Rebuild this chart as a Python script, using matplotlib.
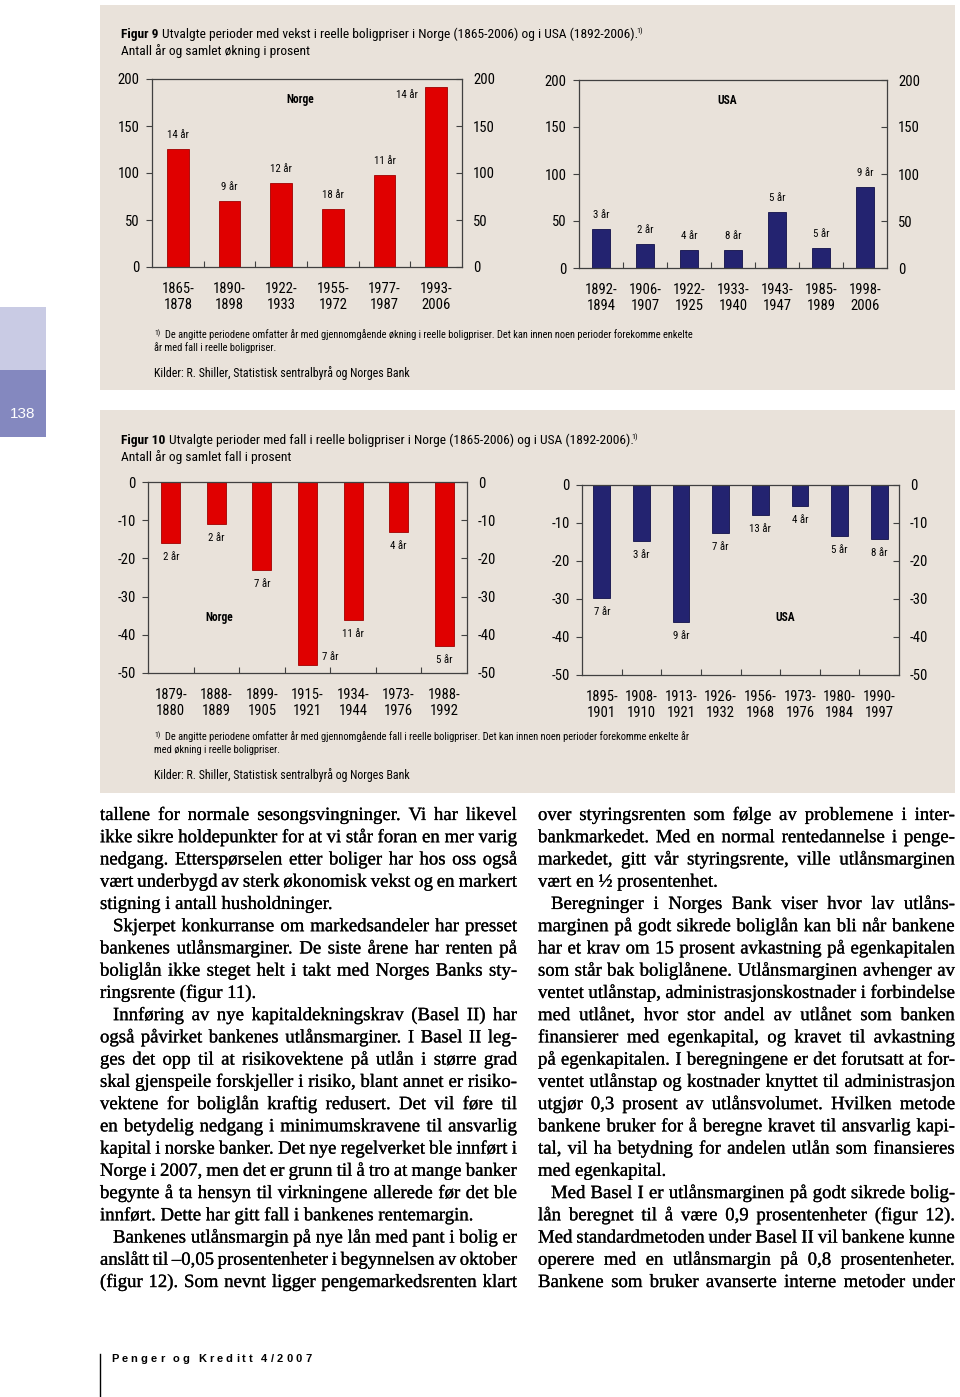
import matplotlib
matplotlib.use('Agg')
import matplotlib.pyplot as plt
import matplotlib.patheffects as pe
import numpy as np
from matplotlib import font_manager
from matplotlib.lines import Line2D
from matplotlib.patches import Rectangle

W, H = 960, 1397
PANEL = '#e9e2da'
RED = '#e00000'
NAVY = '#232370'

# Figur 9: perioder med vekst (prosent) og antall år
norge_up_periods = ['1865-1878', '1890-1898', '1922-1933', '1955-1972', '1977-1987', '1993-2006']
norge_up_values = [126, 70, 89, 62, 98, 191]
norge_up_years = [14, 9, 12, 18, 11, 14]

usa_up_periods = ['1892-1894', '1906-1907', '1922-1925', '1933-1940', '1943-1947', '1985-1989', '1998-2006']
usa_up_values = [41, 25.5, 19.5, 19.5, 59.5, 21, 86]
usa_up_years = [3, 2, 4, 8, 5, 5, 9]

# Figur 10: perioder med fall
norge_down_periods = ['1879-1880', '1888-1889', '1899-1905', '1915-1921', '1934-1944', '1973-1976', '1988-1992']
norge_down_values = [-16, -11, -23, -48, -36, -13, -43]
norge_down_years = [2, 2, 7, 7, 11, 4, 5]

usa_down_periods = ['1895-1901', '1908-1910', '1913-1921', '1926-1932', '1956-1968', '1973-1976', '1980-1984', '1990-1997']
usa_down_values = [-29.8, -14.8, -36, -12.6, -7.8, -5.4, -13.4, -14.1]
usa_down_years = [7, 3, 9, 7, 13, 4, 5, 8]

up_ticks = [0, 50, 100, 150, 200]
down_ticks = [0, -10, -20, -30, -40, -50]

# brødtekst, to spalter
left_lines = [
    'tallene for normale sesongsvingninger. Vi har likevel',
    'ikke sikre holdepunkter for at vi står foran en mer varig',
    'nedgang. Etterspørselen etter boliger har hos oss også',
    'vært underbygd av sterk økonomisk vekst og en markert',
    'stigning i antall husholdninger.',
    'Skjerpet konkurranse om markedsandeler har presset',
    'bankenes utlånsmarginer. De siste årene har renten på',
    'boliglån ikke steget helt i takt med Norges Banks sty-',
    'ringsrente (figur 11).',
    'Innføring av nye kapitaldekningskrav (Basel II) har',
    'også påvirket bankenes utlånsmarginer. I Basel II leg-',
    'ges det opp til at risikovektene på utlån i større grad',
    'skal gjenspeile forskjeller i risiko, blant annet er risiko-',
    'vektene for boliglån kraftig redusert. Det vil føre til',
    'en betydelig nedgang i minimumskravene til ansvarlig',
    'kapital i norske banker. Det nye regelverket ble innført i',
    'Norge i 2007, men det er grunn til å tro at mange banker',
    'begynte å ta hensyn til virkningene allerede før det ble',
    'innført. Dette har gitt fall i bankenes rentemargin.',
    'Bankenes utlånsmargin på nye lån med pant i bolig er',
    'anslått til –0,05 prosentenheter i begynnelsen av oktober',
    '(figur 12). Som nevnt ligger pengemarkedsrenten klart',
]
left_ragged = {4, 8, 18}
left_indent = {5, 9, 19}

right_lines = [
    'over styringsrenten som følge av problemene i inter-',
    'bankmarkedet. Med en normal rentedannelse i penge-',
    'markedet, gitt vår styringsrente, ville utlånsmarginen',
    'vært en ½ prosentenhet.',
    'Beregninger i Norges Bank viser hvor lav utlåns-',
    'marginen på godt sikrede boliglån kan bli når bankene',
    'har et krav om 15 prosent avkastning på egenkapitalen',
    'som står bak boliglånene. Utlånsmarginen avhenger av',
    'ventet utlånstap, administrasjonskostnader i forbindelse',
    'med utlånet, hvor stor andel av utlånet som banken',
    'finansierer med egenkapital, og kravet til avkastning',
    'på egenkapitalen. I beregningene er det forutsatt at for-',
    'ventet utlånstap og kostnader knyttet til administrasjon',
    'utgjør 0,3 prosent av utlånsvolumet. Hvilken metode',
    'bankene bruker for å beregne kravet til ansvarlig kapi-',
    'tal, vil ha betydning for andelen utlån som finansieres',
    'med egenkapital.',
    'Med Basel I er utlånsmarginen på godt sikrede bolig-',
    'lån beregnet til å være 0,9 prosentenheter (figur 12).',
    'Med standardmetoden under Basel II vil bankene kunne',
    'operere med en utlånsmargin på 0,8 prosentenheter.',
    'Bankene som bruker avanserte interne metoder under',
]
right_ragged = {3, 16}
right_indent = {4, 17}


def pick_font(names):
    for n in names:
        try:
            font_manager.findfont(font_manager.FontProperties(family=n), fallback_to_default=False)
            return n
        except ValueError:
            pass
    return 'DejaVu Sans'


NARROW = pick_font(['Liberation Sans Narrow', 'Arial Narrow', 'Roboto Condensed', 'Archivo Narrow',
                    'Liberation Sans'])
SERIF = pick_font(['Liberation Serif', 'DejaVu Serif'])
SANS = pick_font(['Liberation Sans', 'DejaVu Sans'])

fig = plt.figure(figsize=(W / 100, H / 100), dpi=100)
fig.patch.set_facecolor('white')
renderer = fig.canvas.get_renderer()
ink = [pe.withStroke(linewidth=0.18, foreground='black')]


def fxy(x, y):
    return x / W, 1 - y / H


def text_width(s, **kw):
    t = fig.text(0, 0, s, **kw)
    w = t.get_window_extent(renderer).width
    t.remove()
    return w


def fit_size(s, target, base=10, **kw):
    return base * target / text_width(s, fontsize=base, **kw)


# grå bakgrunnsfelt og sidefane
for y0, y1 in [(5, 390), (410, 793)]:
    fig.add_artist(Rectangle(fxy(100, y1), 855 / W, (y1 - y0) / H, transform=fig.transFigure,
                             facecolor=PANEL, edgecolor='none', zorder=0))
fig.add_artist(Rectangle(fxy(0, 370), 46 / W, 63 / H, transform=fig.transFigure,
                         facecolor='#c9cbe4', edgecolor='none', zorder=0))
fig.add_artist(Rectangle(fxy(0, 437), 46 / W, 67 / H, transform=fig.transFigure,
                         facecolor='#8488bf', edgecolor='none', zorder=0))
fig.text(*fxy(23, 414), '138', color='white', fontsize=11, family=SANS, ha='center', va='center')


def bar_chart(box, periods, values, years, color, edge, ylim, yticks):
    x0, y0, x1, y1 = box
    ax = fig.add_axes([x0 / W, 1 - y1 / H, (x1 - x0) / W, (y1 - y0) / H])
    ax.patch.set_alpha(0)
    pos = np.arange(len(values))
    ax.bar(pos, values, width=0.42, color=color, edgecolor=edge, linewidth=0.6, zorder=2)
    ax.set_xlim(-0.5, len(values) - 0.5)
    ax.set_ylim(*ylim)
    ax.set_yticks(yticks)
    ax.set_yticklabels([str(t) for t in yticks], family=NARROW)
    ax.set_xticks(pos)
    ax.set_xticklabels([p.replace('-', '-\n') for p in periods], family=NARROW,
                       fontsize=10.5, linespacing=1.15)
    ax.set_xticks(pos[:-1] + 0.5, minor=True)
    ax.tick_params(axis='x', which='major', length=0, pad=11)
    ax.tick_params(axis='x', which='minor', length=4, direction='in', width=0.8, color='#404040')
    ax.tick_params(axis='y', direction='out', length=4, width=0.8, pad=5, labelsize=10.5, color='#404040')
    for s in ax.spines.values():
        s.set_color('#404040')
        s.set_linewidth(0.9)
    ax2 = ax.twinx()
    ax2.set_ylim(*ylim)
    ax2.set_yticks(yticks)
    ax2.set_yticklabels([str(t) for t in yticks], family=NARROW)
    ax2.tick_params(axis='y', direction='in', length=4, width=0.8, pad=8, labelsize=10.5, color='#404040')
    for s in ax2.spines.values():
        s.set_visible(False)

    ppu = (y1 - y0) / (ylim[1] - ylim[0])
    for p, v, n in zip(pos, values, years):
        if v > 0:
            dx, dy = 0, 14
            if v + 19 / ppu > ylim[1]:
                dx, dy = -29, -8
        else:
            dx, dy = 0, -14
            if v - 19 / ppu < ylim[0]:
                dx, dy = 23, 8
        ax.annotate(f'{n} år', (p, v), xytext=(dx * 0.72, dy * 0.72), textcoords='offset points',
                    ha='center', va='center', fontsize=7.8, family=NARROW)
    return ax


bar_chart((152, 79, 462, 267), norge_up_periods, norge_up_values, norge_up_years,
          RED, '#a00000', (0, 200), up_ticks)
bar_chart((579, 80, 887, 268), usa_up_periods, usa_up_values, usa_up_years,
          NAVY, '#10104a', (0, 200), up_ticks)
bar_chart((148, 482, 467, 673), norge_down_periods, norge_down_values, norge_down_years,
          RED, '#a00000', (-50, 0), down_ticks)
bar_chart((582, 485, 899, 675), usa_down_periods, usa_down_values, usa_down_years,
          NAVY, '#10104a', (-50, 0), down_ticks)

for label, x, y in [('Norge', 300, 100), ('USA', 727, 101), ('Norge', 219, 618), ('USA', 785, 617)]:
    fig.text(*fxy(x, y), label, fontsize=8.3, fontweight='bold', family=NARROW, ha='center', va='center')


def figure_title(y, bold_part, rest, target, sub_line):
    full = bold_part + ' ' + rest
    size = fit_size(full, target, family=NARROW)
    fig.text(*fxy(121, y), bold_part, fontsize=size, fontweight='bold', family=NARROW, va='baseline')
    wb = text_width(bold_part, fontsize=size, fontweight='bold', family=NARROW)
    fig.text(*fxy(121 + wb + size * 0.35, y), rest, fontsize=size, family=NARROW, va='baseline')
    fig.text(*fxy(121 + target + 3, y - 5), '1)', fontsize=size * 0.6, family=NARROW, va='baseline')
    fig.text(*fxy(121, y + 17), sub_line, fontsize=size, family=NARROW, va='baseline')


figure_title(38, 'Figur 9', 'Utvalgte perioder med vekst i reelle boligpriser i Norge (1865-2006) og i USA (1892-2006).',
             512, 'Antall år og samlet økning i prosent')
figure_title(444, 'Figur 10', 'Utvalgte perioder med fall i reelle boligpriser i Norge (1865-2006) og i USA (1892-2006).',
             507, 'Antall år og samlet fall i prosent')


def footnote(y, line1, line2, target):
    size = fit_size(line1, target, family=NARROW)
    fig.text(*fxy(154, y - 2), '1)', fontsize=size * 0.75, family=NARROW, va='center')
    fig.text(*fxy(165, y), line1, fontsize=size, family=NARROW, va='center')
    fig.text(*fxy(154, y + 13), line2, fontsize=size, family=NARROW, va='center')
    src = 'Kilder: R. Shiller, Statistisk sentralbyrå og Norges Bank'
    fig.text(*fxy(154, y + 38), src, fontsize=fit_size(src, 254, family=NARROW), family=NARROW, va='center')


footnote(335, 'De angitte periodene omfatter år med gjennomgående økning i reelle boligpriser. '
              'Det kan innen noen perioder forekomme enkelte', 'år med fall i reelle boligpriser.', 525)
footnote(737, 'De angitte periodene omfatter år med gjennomgående fall i reelle boligpriser. '
              'Det kan innen noen perioder forekomme enkelte år', 'med økning i reelle boligpriser.', 522)

# brødtekst med blokkjustering
body_size = fit_size('stigning i antall husholdninger.', 232, base=12, family=SERIF)


def text_column(lines, ragged, indent, x0, x1):
    for i, line in enumerate(lines):
        y = 820 + i * 22.24
        start = x0 + (13 if i in indent else 0)
        if i in ragged:
            fig.text(*fxy(start, y), line, fontsize=body_size, family=SERIF, va='baseline',
                     path_effects=ink)
            continue
        words = line.split()
        widths = [text_width(w, fontsize=body_size, family=SERIF) for w in words]
        gap = (x1 - start - sum(widths)) / (len(words) - 1)
        x = start
        for w, wd in zip(words, widths):
            fig.text(*fxy(x, y), w, fontsize=body_size, family=SERIF, va='baseline', path_effects=ink)
            x += wd + gap


text_column(left_lines, left_ragged, left_indent, 100, 517)
text_column(right_lines, right_ragged, right_indent, 538, 955)

# bunntekst
fig.add_artist(Line2D([100 / W, 100 / W], [1 - 1354 / H, 0], transform=fig.transFigure, color='black', lw=1))
footer = 'Penger og Kreditt 4/2007'
x = 111
for ch in footer:
    if ch == ' ':
        x += 5.5
        continue
    fig.text(*fxy(x, 1359), ch, fontsize=8, fontweight='bold', family=SANS, va='center')
    x += text_width(ch, fontsize=8, fontweight='bold', family=SANS) + 3.1

fig.savefig('out.png', dpi=100, facecolor='white')
